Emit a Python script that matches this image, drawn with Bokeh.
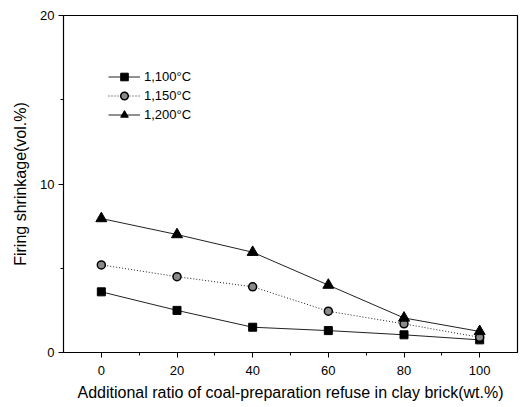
from bokeh.plotting import figure
from bokeh.models import Range1d, FixedTicker, Legend, LegendItem
from bokeh.embed import file_html
from bokeh.resources import INLINE

# Addition ratio of coal-preparation refuse (wt.%)
ratio = [0, 20, 40, 60, 80, 100]
# Firing shrinkage (vol.%) at each firing temperature
shrink_1100 = [3.6, 2.5, 1.5, 1.3, 1.05, 0.75]
shrink_1150 = [5.2, 4.5, 3.9, 2.45, 1.7, 0.9]
shrink_1200 = [7.95, 7.0, 5.95, 4.0, 2.05, 1.25]
labels = ["1,100°C", "1,150°C", "1,200°C"]

FONT = "Liberation Sans"

p = figure(width=525, height=407, output_backend="svg", toolbar_location=None,
           x_range=Range1d(-10, 110), y_range=Range1d(0, 20),
           min_border_left=63, min_border_right=8, min_border_top=15,
           min_border_bottom=55)
p.background_fill_color = "white"
p.border_fill_color = "white"
p.outline_line_color = "black"
p.outline_line_width = 1.2
p.xgrid.visible = False
p.ygrid.visible = False

p.xaxis.ticker = FixedTicker(ticks=[0, 20, 40, 60, 80, 100],
                             minor_ticks=[10, 30, 50, 70, 90])
p.yaxis.ticker = FixedTicker(ticks=[0, 10, 20], minor_ticks=[5, 15])

for ax in (p.xaxis[0], p.yaxis[0]):
    ax.axis_line_color = "black"
    ax.major_tick_line_color = "black"
    ax.minor_tick_line_color = "black"
    ax.major_tick_out = 5
    ax.major_tick_in = 0
    ax.minor_tick_out = 3
    ax.minor_tick_in = 0
    ax.major_label_text_font = FONT
    ax.major_label_text_font_size = "13px"
    ax.major_label_text_color = "black"
    ax.axis_label_text_font = FONT
    ax.axis_label_text_font_size = "16px"
    ax.axis_label_text_font_style = "normal"
    ax.axis_label_text_color = "black"

p.xaxis.axis_label = "Additional ratio of coal-preparation refuse in clay brick(wt.%)"
p.yaxis.axis_label = "Firing shrinkage(vol.%)"
p.xaxis.major_label_standoff = 8
p.xaxis.axis_label_standoff = 6
p.yaxis.major_label_standoff = 4
p.yaxis.axis_label_standoff = 8

line_col = "#222222"

l1 = p.line(ratio, shrink_1100, line_color=line_col, line_width=1)
m1 = p.scatter(ratio, shrink_1100, marker="square", size=8,
               fill_color="black", line_color="black")

l2 = p.line(ratio, shrink_1150, line_color=line_col, line_width=1, line_dash="1 2")
m2 = p.scatter(ratio, shrink_1150, marker="circle", size=8,
               fill_color="#8a8a8a", line_color="black", line_width=1.5)

l3 = p.line(ratio, shrink_1200, line_color=line_col, line_width=1)
m3 = p.scatter(ratio, shrink_1200, marker="triangle", size=11,
               fill_color="black", line_color="black")

legend = Legend(items=[LegendItem(label=labels[0], renderers=[l1, m1]),
                       LegendItem(label=labels[1], renderers=[l2, m2]),
                       LegendItem(label=labels[2], renderers=[l3, m3])],
                location=(45, 228))
legend.background_fill_alpha = 0
legend.border_line_alpha = 0
legend.padding = 0
legend.margin = 0
legend.spacing = 0
legend.glyph_width = 32
legend.glyph_height = 19
legend.label_height = 19
legend.label_standoff = 4
legend.label_text_font = FONT
legend.label_text_font_size = "13px"
legend.label_text_color = "black"
p.add_layout(legend)

open("out.html", "w").write(file_html(p, INLINE))
